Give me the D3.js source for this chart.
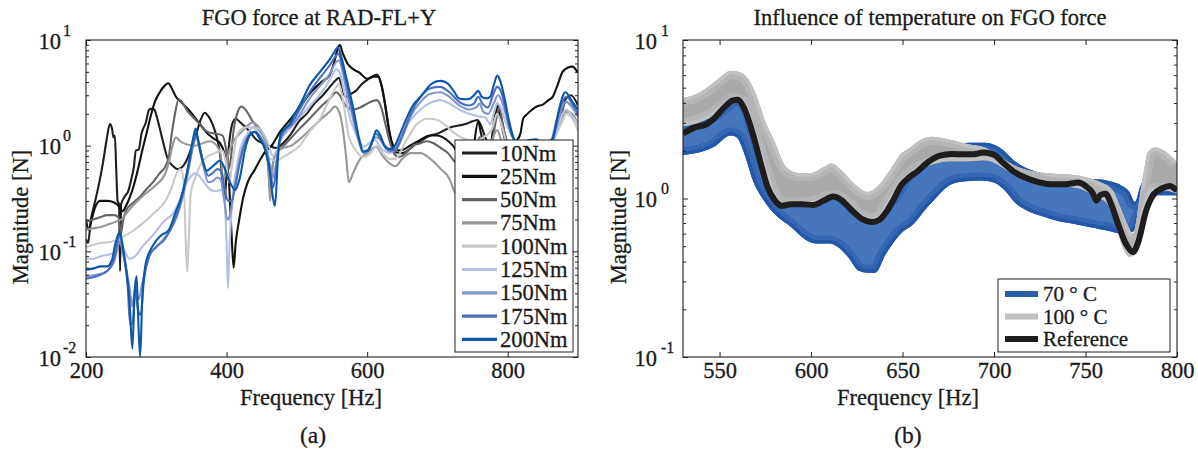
<!DOCTYPE html>
<html><head><meta charset="utf-8">
<script src="https://cdn.jsdelivr.net/npm/d3@7"></script>
<style>
body{margin:0;background:#fff}
svg{display:block}
text{font-family:"Liberation Serif","Times New Roman",serif;fill:#1a1a1a;stroke:#1a1a1a;stroke-width:0.3px}
</style>
</head><body>
<svg id="c" width="1198" height="453"></svg>
<script>
// ---------------- DATA ----------------
const torqueLabels = ["10Nm","25Nm","50Nm","75Nm","100Nm","125Nm","150Nm","175Nm","200Nm"];
const xTicksLeft = [200,400,600,800];
const xTicksRight = [550,600,650,700,750,800];
const yTicksLeft = [0.01,0.1,1,10];
const yExpLeft = ["-2","-1","0","1"];
const yTicksRight = [0.1,1,10];
const yExpRight = ["-1","0","1"];

const s10 = [[200,0.13],[203,0.12],[207,0.2],[212,0.28],[218,0.42],[224,0.68],[229,1.1],[234,1.6],[237,1.45],[239,1.2],[241,1.25],[243,0.6],[245,0.3],[247,0.28],[248.5,0.065],[250,0.28],[255,0.33],[260,0.37],[265,0.5],[268,0.62],[271,0.9],[275,0.92],[279,1.3],[285,1.65],[290,2.2],[295,2.25],[298,2.15],[302,1.75],[309,1.13],[317,0.73],[324,0.64],[330,0.6],[336,0.62],[342,0.7],[350,0.95],[357,1.3],[363,1.75],[369,2.05],[374,1.9],[380,1.6],[386,1.2],[391,0.8],[394,0.45],[397,0.3],[400,0.55],[404,1.1],[408,1.6],[413,1.8],[420,1.65],[427,1.5],[435,1.3],[443,1.13],[452,1.05],[460,1.0],[470,0.95],[480,1.05],[492,1.3],[503,1.7],[514,2.0],[525,2.5],[535,2.9],[547,3.6],[556,4.2],[560,4.4],[565,3.3],[570,2.9],[577,3.1],[584,3.3],[592,3.8],[600,4.2],[607,4.5],[614,4.7],[620,3.8],[626,2.4],[631,1.4],[636,1.0],[642,0.86],[650,0.85],[660,0.92],[670,1.05],[680,1.15],[690,1.25],[700,1.3],[710,1.4],[720,1.5],[730,1.55],[740,1.6],[750,1.7],[757,1.75],[762,1.55],[768,1.2],[775,1.0],[781,1.8],[785,2.5],[790,1.9],[797,1.2],[806,0.9],[815,0.85],[825,0.95],[835,1.0],[845,1.0],[855,1.05],[865,1.2],[875,1.8],[883,2.8],[890,3.0],[900,2.4]];

const s25 = [[200,0.2],[204,0.16],[208,0.2],[213,0.26],[220,0.3],[230,0.3],[240,0.29],[246,0.27],[252,0.24],[257,0.27],[262,0.32],[268,0.42],[274,0.6],[280,0.9],[286,1.3],[292,1.9],[298,2.6],[305,3.2],[312,3.7],[317,3.9],[322,3.5],[328,2.9],[335,2.6],[343,2.3],[351,2.0],[362,1.6],[373,1.3],[383,1.15],[391,1.05],[398,0.8],[403,0.5],[407,0.15],[410,0.07],[413,0.12],[418,0.2],[424,0.33],[430,0.45],[440,0.59],[447,0.72],[455,0.88],[465,1.02],[476,1.35],[490,1.75],[504,2.3],[518,3.1],[533,3.9],[547,4.7],[554,6.5],[558,8.2],[561,9.0],[565,7.6],[572,6.0],[580,5.3],[589,4.9],[600,4.3],[610,4.5],[616,4.5],[621,3.6],[628,1.9],[634,1.15],[640,0.94],[645,0.9],[652,0.92],[661,1.0],[675,1.13],[689,1.25],[700,1.25],[712,1.15],[722,1.0],[730,0.85],[740,0.8],[750,0.9],[758,1.7],[762,1.3],[768,1.0],[775,0.95],[781,1.6],[785,2.4],[790,1.7],[797,1.1],[805,0.95],[812,1.1],[818,1.3],[822,1.8],[828,2.0],[835,2.2],[841,2.35],[850,2.45],[858,2.7],[864,2.9],[870,3.6],[878,5.0],[886,5.5],[892,5.6],[900,4.9]];

const s50 = [[200,0.19],[210,0.2],[220,0.21],[230,0.22],[240,0.22],[246,0.21],[250,0.15],[253,0.2],[258,0.25],[265,0.28],[275,0.32],[285,0.38],[295,0.45],[305,0.55],[312,0.62],[318,0.8],[322,1.3],[326,1.9],[332,2.75],[338,2.5],[345,2.1],[351,1.9],[362,1.6],[373,1.35],[384,1.3],[394,1.25],[399,0.95],[403,0.6],[406,0.75],[410,1.4],[415,2.0],[421,2.35],[428,2.15],[436,1.75],[445,1.45],[452,1.25],[457,1.0],[460,0.6],[462,0.35],[465,0.6],[470,0.85],[478,0.95],[490,1.15],[504,1.45],[518,1.8],[533,2.3],[547,2.8],[556,3.2],[561,3.0],[566,2.6],[572,2.3],[580,2.2],[590,2.3],[600,2.5],[608,2.65],[614,2.7],[620,2.3],[626,1.6],[632,1.1],[638,0.85],[645,0.78],[655,0.85],[665,1.0],[675,1.05],[685,1.1],[695,1.05],[705,0.95],[715,0.85],[725,0.7],[735,0.6],[750,0.7],[760,1.2],[765,1.0],[775,0.9],[783,1.7],[788,2.3],[793,1.6],[800,1.0],[810,0.8],[825,0.8],[840,0.85],[855,0.9],[865,1.2],[875,1.9],[883,2.6],[890,2.4],[900,1.9]];

const s75 = [[200,0.16],[210,0.165],[221,0.17],[232,0.18],[242,0.19],[250,0.2],[260,0.24],[269,0.28],[280,0.33],[297,0.41],[313,0.55],[319,0.75],[324,1.05],[328,1.2],[334,1.1],[345,1.02],[355,1.0],[365,1.05],[376,1.1],[386,1.0],[392,0.8],[395,0.45],[398,0.55],[402,0.8],[410,1.1],[419,1.3],[428,1.5],[436,1.65],[444,1.55],[452,1.25],[457,0.95],[460,0.5],[462,0.3],[465,0.6],[470,0.85],[480,0.95],[492,1.0],[504,1.15],[518,1.4],[533,1.75],[547,2.1],[554,2.35],[560,2.1],[565,1.5],[570,0.8],[574,0.45],[580,0.55],[589,0.73],[600,0.85],[613,0.98],[622,0.8],[632,0.68],[640,0.64],[650,0.75],[662,0.85],[676,0.85],[690,0.75],[705,0.6],[716,0.5],[725,0.36],[735,0.3],[750,0.4],[760,0.7],[770,0.8],[785,1.4],[793,1.0],[805,0.7],[820,0.7],[840,0.75],[855,0.8],[865,1.1],[875,1.7],[883,2.1],[892,2.0],[900,1.6]];

const s100 = [[200,0.11],[210,0.115],[221,0.12],[232,0.122],[242,0.127],[255,0.14],[269,0.16],[283,0.19],[297,0.23],[313,0.3],[322,0.4],[329,0.55],[335,0.6],[339,0.45],[342,0.12],[344,0.064],[346,0.12],[349,0.35],[356,0.51],[367,0.73],[383,0.85],[394,0.9],[399,0.7],[404,0.45],[407,0.6],[413,1.1],[419,1.4],[431,1.5],[440,1.45],[448,1.25],[456,0.95],[462,0.75],[470,0.72],[480,0.78],[490,0.85],[504,1.0],[518,1.35],[533,1.8],[547,2.8],[556,3.6],[560,3.8],[566,2.6],[573,1.3],[584,0.9],[594,0.78],[605,0.85],[614,1.0],[622,0.85],[632,0.75],[640,0.75],[655,1.1],[671,1.6],[687,1.8],[700,1.75],[712,1.55],[725,1.3],[740,1.15],[755,1.1],[765,1.2],[777,1.4],[785,2.0],[792,1.5],[800,1.0],[815,0.85],[835,0.9],[855,0.95],[867,1.2],[876,1.6],[884,2.0],[892,1.8],[900,1.4]];

const s125 = [[200,0.085],[210,0.085],[221,0.09],[232,0.093],[242,0.097],[248,0.13],[255,0.1],[262,0.085],[270,0.09],[280,0.11],[297,0.147],[310,0.19],[324,0.23],[333,0.3],[340,0.41],[348,0.5],[356,0.55],[365,0.48],[374,0.4],[383,0.37],[392,0.38],[397,0.3],[400,0.12],[402,0.045],[404,0.1],[408,0.3],[414,0.6],[421,1.0],[430,1.3],[438,1.5],[449,1.4],[459,1.05],[466,0.8],[470,0.85],[476,1.1],[492,1.5],[514,2.2],[530,2.9],[541,3.6],[550,4.6],[556,5.3],[561,4.9],[568,3.1],[576,1.8],[584,1.3],[595,0.98],[611,1.13],[622,0.91],[633,0.85],[645,1.1],[655,1.5],[676,2.2],[690,2.55],[704,2.7],[717,2.5],[731,2.2],[745,2.0],[758,1.9],[768,1.85],[775,1.6],[780,2.0],[785,2.5],[790,2.3],[796,1.75],[807,1.2],[820,1.0],[840,1.05],[860,1.0],[870,1.4],[878,2.0],[883,2.2],[892,1.9],[900,1.6]];

const s150 = [[200,0.058],[215,0.06],[230,0.065],[240,0.08],[248,0.12],[255,0.08],[262,0.045],[266,0.03],[270,0.045],[275,0.035],[280,0.05],[290,0.09],[300,0.11],[310,0.13],[320,0.16],[330,0.22],[340,0.38],[348,0.7],[354,1.1],[357,1.2],[362,0.9],[368,0.6],[374,0.45],[380,0.46],[387,0.5],[392,0.47],[397,0.3],[401,0.2],[405,0.22],[410,0.35],[416,0.6],[423,0.95],[432,1.25],[440,1.35],[448,1.2],[456,0.95],[462,0.65],[466,0.5],[470,0.65],[476,1.1],[485,1.4],[495,1.6],[505,2.0],[518,2.8],[533,3.7],[547,4.8],[556,6.2],[560,6.4],[565,5.0],[572,3.0],[580,1.8],[589,1.05],[595,0.85],[602,0.9],[612,1.2],[618,1.15],[626,0.95],[634,0.88],[640,0.9],[650,1.2],[662,1.9],[676,2.6],[690,3.1],[704,3.2],[717,2.9],[731,2.4],[745,2.2],[755,2.3],[760,2.5],[765,2.1],[772,2.0],[780,2.5],[786,3.0],[792,2.6],[798,1.9],[807,1.2],[820,1.0],[840,1.1],[860,1.05],[870,1.6],[877,2.3],[883,2.6],[892,2.3],[900,1.9]];

const s175 = [[200,0.055],[215,0.058],[230,0.065],[240,0.085],[248,0.14],[254,0.09],[259,0.05],[263,0.02],[267,0.022],[270,0.045],[274,0.028],[278,0.025],[282,0.05],[290,0.09],[300,0.11],[312,0.13],[322,0.17],[331,0.24],[340,0.42],[348,0.75],[353,1.1],[357,1.25],[362,0.95],[368,0.65],[374,0.52],[380,0.55],[387,0.6],[392,0.58],[397,0.4],[402,0.3],[407,0.3],[412,0.4],[418,0.65],[425,1.0],[433,1.28],[440,1.35],[448,1.2],[455,0.95],[461,0.6],[466,0.4],[470,0.55],[475,1.1],[483,1.42],[492,1.6],[504,2.2],[518,3.2],[533,4.4],[547,5.8],[555,7.0],[559,7.4],[564,6.0],[571,3.8],[580,2.0],[589,1.1],[595,0.87],[602,0.9],[612,1.3],[618,1.2],[626,0.97],[634,0.9],[640,0.92],[650,1.25],[662,2.0],[676,2.9],[690,3.5],[704,3.6],[717,3.2],[731,2.6],[745,2.4],[752,2.5],[758,2.9],[764,2.5],[772,2.3],[779,3.0],[785,3.6],[791,3.2],[797,2.2],[805,1.3],[815,1.05],[830,1.1],[845,1.1],[860,1.05],[870,1.8],[877,2.5],[883,2.9],[892,2.5],[900,2.0]];

const s200 = [[200,0.067],[211,0.069],[221,0.072],[230,0.072],[237,0.083],[242,0.12],[248,0.152],[253,0.104],[258,0.062],[262,0.033],[266,0.012],[269,0.04],[272,0.058],[274,0.026],[277,0.010],[280,0.035],[285,0.077],[294,0.11],[306,0.14],[318,0.16],[327,0.23],[337,0.35],[346,0.68],[352,1.13],[356,1.45],[360,1.1],[366,0.72],[372,0.58],[378,0.62],[385,0.68],[390,0.72],[395,0.66],[402,0.5],[407,0.42],[412,0.38],[419,0.5],[426,0.9],[433,1.25],[440,1.35],[447,1.17],[455,0.9],[462,0.55],[466,0.32],[469,0.27],[473,0.75],[477,1.3],[483,1.45],[490,1.6],[497,2.0],[504,2.4],[518,3.7],[533,5.0],[547,6.6],[553,7.6],[558,8.5],[563,7.0],[570,4.5],[580,2.3],[589,1.13],[594,0.88],[600,0.9],[608,1.13],[613,1.4],[618,1.28],[625,1.0],[632,0.93],[637,0.95],[647,1.3],[655,1.75],[665,2.4],[676,2.9],[693,3.9],[704,4.1],[714,3.9],[723,3.3],[731,2.8],[740,2.75],[747,2.8],[752,3.0],[758,3.3],[763,2.9],[770,2.8],[775,2.9],[780,3.7],[785,4.6],[790,4.0],[796,2.7],[802,1.7],[809,1.15],[815,1.0],[825,1.1],[840,1.15],[855,1.0],[865,1.2],[873,2.2],[882,3.2],[892,2.6],[900,2.2]];

const tempLabels = ["70 ° C", "100 ° C", "Reference"];
const refLine = [[530,2.57],[536,2.8],[543,2.95],[547,3.2],[553,3.8],[557,4.15],[560,4.2],[563,3.8],[568,2.6],[572,1.75],[576,1.2],[580,0.98],[584,0.9],[589,0.92],[595,0.92],[601,0.91],[607,0.97],[612,1.03],[616,0.99],[622,0.85],[628,0.74],[633,0.71],[637,0.73],[641,0.82],[645,0.98],[649,1.2],[654,1.37],[658,1.48],[664,1.7],[670,1.86],[677,1.91],[683,1.9],[689,1.9],[694,1.95],[700,1.89],[704,1.72],[710,1.5],[716,1.37],[722,1.29],[731,1.23],[739,1.23],[746,1.26],[750,1.2],[754,1.08],[756,0.97],[758,1.05],[761,1.07],[764,0.92],[768,0.68],[772,0.52],[776,0.46],[779,0.54],[783,0.83],[787,1.05],[792,1.16],[796,1.2],[800,1.12]];
const band100Upper = [[530,4.3],[538,4.6],[546,5.3],[551,5.9],[556,6.4],[562,6.2],[566,5.6],[570,4.5],[575,3.05],[580,2.3],[586,1.6],[593,1.45],[600,1.45],[607,1.58],[611,1.66],[618,1.45],[625,1.2],[631,1.1],[636,1.18],[643,1.5],[649,1.9],[653,2.05],[660,2.35],[666,2.45],[676,2.35],[686,2.2],[695,2.1],[704,1.8],[713,1.58],[722,1.48],[731,1.44],[740,1.42],[749,1.37],[758,1.27],[765,1.12],[769,0.88],[773,0.68],[776,0.6],[778,0.75],[780,1.1],[782,1.5],[784,1.95],[788,2.1],[793,2.0],[800,1.7]];
const band100Lower = [[530,2.85],[538,3.0],[546,3.3],[552,3.75],[557,4.1],[562,4.0],[566,3.1],[571,2.0],[576,1.3],[580,1.0],[585,0.9],[590,0.9],[597,0.9],[603,0.93],[609,0.99],[614,1.0],[620,0.9],[626,0.77],[632,0.72],[637,0.74],[641,0.85],[645,1.02],[650,1.25],[658,1.5],[667,1.65],[676,1.72],[686,1.72],[695,1.74],[701,1.66],[708,1.48],[714,1.38],[722,1.3],[731,1.21],[740,1.19],[749,1.13],[754,1.05],[758,1.0],[762,0.92],[766,0.72],[770,0.5],[774,0.43],[777,0.44],[780,0.6],[783,0.9],[787,1.12],[794,1.12],[800,1.07]];
const band70Upper = [[530,3.1],[540,3.25],[548,3.5],[553,3.9],[558,4.3],[562,4.3],[566,3.6],[571,2.3],[576,1.5],[581,1.15],[587,1.02],[595,1.0],[603,1.02],[610,1.1],[615,1.08],[621,0.95],[628,0.82],[634,0.8],[640,0.9],[646,1.1],[652,1.4],[660,1.7],[668,1.95],[677,2.05],[686,2.25],[695,2.25],[703,2.1],[712,1.7],[721,1.5],[731,1.4],[740,1.36],[749,1.33],[758,1.32],[765,1.27],[770,1.2],[774,1.1],[777,0.95],[780,1.2],[785,1.4],[792,1.5],[800,1.55]];
const band70Lower = [[530,1.88],[543,2.02],[547,2.12],[556,2.5],[559,2.45],[564,1.85],[568,1.32],[574,0.98],[580,0.8],[589,0.66],[597,0.55],[603,0.52],[610,0.52],[614,0.5],[620,0.43],[626,0.35],[631,0.34],[635,0.34],[641,0.45],[649,0.6],[656,0.69],[662,0.84],[668,1.0],[675,1.2],[683,1.28],[693,1.3],[700,1.26],[706,1.12],[712,0.93],[718,0.84],[727,0.77],[735,0.72],[744,0.69],[752,0.66],[758,0.64],[764,0.62],[770,0.6],[776,0.62],[782,0.9],[787,1.05],[800,1.05]];

// ---------------- STYLE ----------------
const torqueSeries = [s10,s25,s50,s75,s100,s125,s150,s175,s200];
const torqueColors = ["#1e1e1e","#111111","#646464","#979797","#c9c9c9","#b4c0e4","#8095d0","#4c6fbc","#0b57a8"];
const FS = 22.5;

const svg = d3.select("#c");
const defs = svg.append("defs");

const L = {x0:86,x1:578,y0:40,y1:357};
const R = {x0:683,x1:1177,y0:40,y1:357};
const xL = d3.scaleLinear().domain([200,900]).range([L.x0,L.x1]);
const yL = d3.scaleLog().domain([0.01,10]).range([L.y1,L.y0]);
const xR = d3.scaleLinear().domain([530,800]).range([R.x0,R.x1]);
const yR = d3.scaleLog().domain([0.1,10]).range([R.y1,R.y0]);

function minorTicks(lo,hi){
  const out=[];
  for(let e=Math.round(Math.log10(lo)); e<Math.round(Math.log10(hi)); e++){
    for(let k=2;k<=9;k++) out.push(k*Math.pow(10,e));
  }
  return out;
}

defs.append("clipPath").attr("id","clipL").append("rect").attr("x",L.x0).attr("y",L.y0).attr("width",L.x1-L.x0).attr("height",L.y1-L.y0);
defs.append("clipPath").attr("id","clipR").append("rect").attr("x",R.x0).attr("y",R.y0).attr("width",R.x1-R.x0).attr("height",R.y1-R.y0);

function drawAxes(P,x,y,xt,yt,yexp,expX,tenX){
  const g = svg.append("g");
  const ax = (axis,tx,ty)=>{
    const a=g.append("g").attr("transform",`translate(${tx},${ty})`).call(axis);
    a.select(".domain").remove();
    a.selectAll(".tick line").attr("stroke","#222").attr("stroke-width",1);
    return a;
  };
  const b = ax(d3.axisBottom(x).tickValues(xt).tickSizeInner(-5).tickSizeOuter(0).tickPadding(5).tickFormat(d3.format("d")),0,P.y1);
  b.selectAll("text").attr("font-size",FS).attr("fill","#1a1a1a");
  ax(d3.axisTop(x).tickValues(xt).tickSizeInner(-5).tickSizeOuter(0).tickFormat(""),0,P.y0);
  ax(d3.axisLeft(y).tickValues(minorTicks(y.domain()[0],y.domain()[1])).tickSizeInner(-3).tickSizeOuter(0).tickFormat(""),P.x0,0);
  ax(d3.axisRight(y).tickValues(minorTicks(y.domain()[0],y.domain()[1])).tickSizeInner(-3).tickSizeOuter(0).tickFormat(""),P.x1,0);
  const yl = ax(d3.axisLeft(y).tickValues(yt).tickSizeInner(-5).tickSizeOuter(0).tickFormat(""),P.x0,0);
  ax(d3.axisRight(y).tickValues(yt).tickSizeInner(-5).tickSizeOuter(0).tickFormat(""),P.x1,0);
  yl.selectAll(".tick").each(function(d,i){
    const t=d3.select(this);
    t.append("text").attr("x",tenX).attr("y",8).attr("text-anchor","end").attr("font-size",FS).text("10");
    t.append("text").attr("x",expX).attr("y",-5).attr("text-anchor","start").attr("font-size",16).text(yexp[i]);
  });
  g.append("rect").attr("x",P.x0).attr("y",P.y0).attr("width",P.x1-P.x0).attr("height",P.y1-P.y0)
    .attr("fill","none").attr("stroke","#222").attr("stroke-width",1.1);
}

// ---------------- LEFT ----------------
const lineL = d3.line().x(d=>xL(d[0])).y(d=>yL(d[1])).curve(d3.curveMonotoneX);
const gl = svg.append("g").attr("clip-path","url(#clipL)");
torqueSeries.forEach((s,i)=>{
  gl.append("path").attr("d",lineL(s)).attr("fill","none").attr("stroke",torqueColors[i]).attr("stroke-width",2.1).attr("stroke-linejoin","round");
});
drawAxes(L,xL,yL,xTicksLeft,yTicksLeft,yExpLeft,-23,-25);

const lg = svg.append("g");
lg.append("rect").attr("x",455).attr("y",140).attr("width",118).attr("height",212).attr("fill","#fff").attr("stroke","#222").attr("stroke-width",1);
torqueLabels.forEach((lab,i)=>{
  const yy = 153 + i*23.3;
  lg.append("line").attr("x1",462).attr("x2",497).attr("y1",yy).attr("y2",yy).attr("stroke",torqueColors[i]).attr("stroke-width",3.2);
  lg.append("text").attr("x",500).attr("y",yy+7.5).attr("font-size",FS).text(lab);
});

svg.append("text").attr("x",319).attr("y",25).attr("text-anchor","middle").attr("font-size",FS).text("FGO force at RAD-FL+Y");
svg.append("text").attr("x",311).attr("y",405).attr("text-anchor","middle").attr("font-size",FS).text("Frequency [Hz]");
svg.append("text").attr("transform","translate(28,217) rotate(-90)").attr("text-anchor","middle").attr("font-size",FS).text("Magnitude [N]");
svg.append("text").attr("x",313).attr("y",443).attr("text-anchor","middle").attr("font-size",FS+1).text("(a)");

// ---------------- RIGHT ----------------
const lineR = d3.line().x(d=>xR(d[0])).y(d=>yR(d[1])).curve(d3.curveMonotoneX);
function bandPath(up,lo){
  return lineR(up) + "L" + lineR(lo.slice().reverse()).slice(1) + "Z";
}
const gr = svg.append("g").attr("clip-path","url(#clipR)");
function drawBand(up,lo,inner,mid,edge,id){
  const d = bandPath(up,lo);
  defs.append("clipPath").attr("id",id).append("path").attr("d",d);
  const g = gr.append("g").attr("clip-path",`url(#${id})`);
  g.append("path").attr("d",d).attr("fill",inner);
  [up,lo].forEach(s=>{
    g.append("path").attr("d",lineR(s)).attr("fill","none").attr("stroke",mid).attr("stroke-width",16);
    g.append("path").attr("d",lineR(s)).attr("fill","none").attr("stroke",edge).attr("stroke-width",7);
  });
}
drawBand(band70Upper,band70Lower,"#4676bc","#3566b2","#2358a8","b70");
drawBand(band100Upper,band100Lower,"#a8a9ab","#b3b4b6","#c0c1c3","b100");
gr.append("path").attr("d",lineR(refLine)).attr("fill","none").attr("stroke","#1e1c1d").attr("stroke-width",6).attr("stroke-linejoin","round");
drawAxes(R,xR,yR,xTicksRight,yTicksRight,yExpRight,-22,-26);

const rg = svg.append("g");
rg.append("rect").attr("x",998).attr("y",279).attr("width",172).attr("height",73).attr("fill","#fff").attr("stroke","#222").attr("stroke-width",1);
const tempColors = ["#2a5ead","#bfc0c2","#1e1c1d"];
tempLabels.forEach((lab,i)=>{
  const yy = 294 + i*22.5;
  rg.append("line").attr("x1",1005).attr("x2",1038).attr("y1",yy).attr("y2",yy).attr("stroke",tempColors[i]).attr("stroke-width",6);
  rg.append("text").attr("x",1043).attr("y",yy+7).attr("font-size",21).text(lab);
});

svg.append("text").attr("x",930).attr("y",25).attr("text-anchor","middle").attr("font-size",FS).text("Influence of temperature on FGO force");
svg.append("text").attr("x",908).attr("y",405).attr("text-anchor","middle").attr("font-size",FS).text("Frequency [Hz]");
svg.append("text").attr("transform","translate(626,217) rotate(-90)").attr("text-anchor","middle").attr("font-size",FS).text("Magnitude [N]");
svg.append("text").attr("x",908).attr("y",443).attr("text-anchor","middle").attr("font-size",FS+1).text("(b)");
</script>
</body></html>
